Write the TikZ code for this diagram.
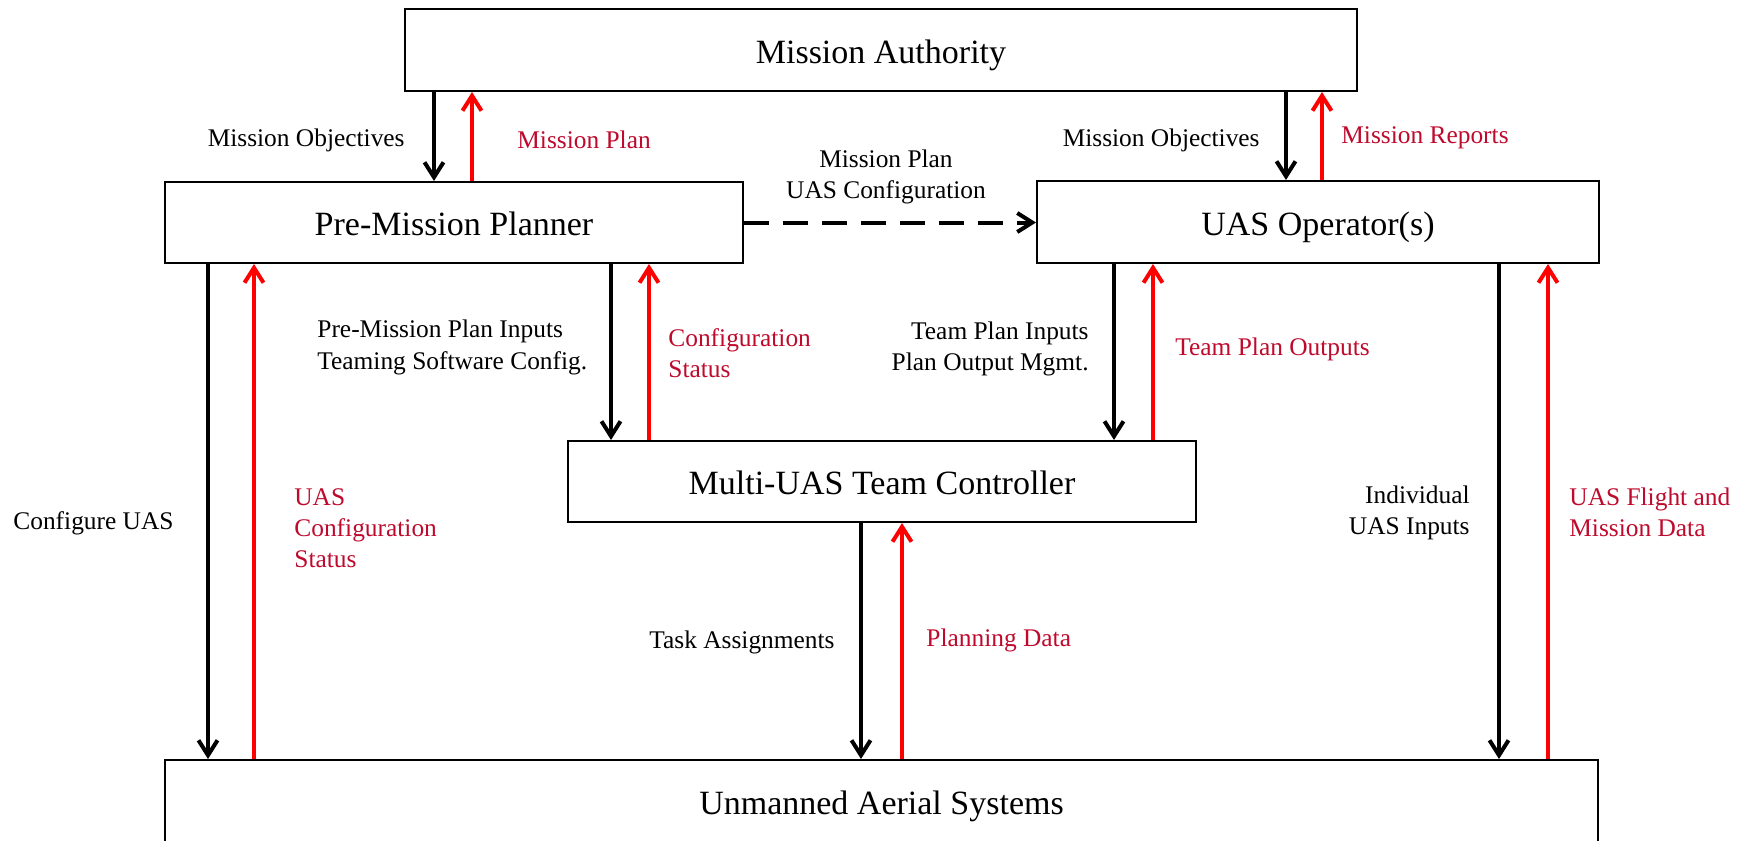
\documentclass[tikz,border=0pt]{standalone}
\usepackage{fontspec}
\setmainfont{Liberation Serif}
\usetikzlibrary{arrows.meta}
\definecolor{labred}{RGB}{190,10,45}
\definecolor{arrred}{RGB}{255,0,0}
\begin{document}
\begin{tikzpicture}[x=0.5pt,y=-0.5pt,
 box/.style={draw,line width=1pt,inner sep=0pt,text height=13.25pt,text depth=0pt,font=\fontsize{17}{20}\selectfont},
 lab/.style={inner sep=0pt,font=\fontsize{12.7}{15.6}\selectfont},
 redlab/.style={lab,text=labred},
 blk/.style={line width=2pt,-{Straight Barb[length=7.5pt,width=9.5pt]}},
 rdl/.style={line width=2pt,draw=arrred,-{Straight Barb[length=7.5pt,width=9.5pt]}},
]
\clip (0,0) rectangle (1752,841);
\fill[white] (0,0) rectangle (1752,841);

% boxes
\node[box,minimum width=476pt,minimum height=41pt] (MA) at (881,50) {Mission Authority};
\node[box,minimum width=289pt,minimum height=40.5pt] (PMP) at (454,222.5) {Pre-Mission Planner};
\node[box,minimum width=281pt,minimum height=41pt] (UOP) at (1318,222) {UAS Operator(s)};
\node[box,minimum width=314pt,minimum height=40.5pt] (MUTC) at (882,481.5) {Multi-UAS Team Controller};
\node[box,minimum width=716.5pt,minimum height=41pt] (UAS) at (881.5,801) {Unmanned Aerial Systems};

% x positions of connectors
\foreach \n/\x in {a/434,b/472,c/1286,d/1322,e/208,f/254,g/611,h/649,i/1114,j/1153,k/1499,l/1548,m/861,n/902}
  \coordinate (x\n) at (\x,0);

% connectors
\draw[blk] (MA.south -| xa) -- (PMP.north -| xa);
\draw[rdl] (PMP.north -| xb) -- (MA.south -| xb);
\draw[blk] (MA.south -| xc) -- (UOP.north -| xc);
\draw[rdl] (UOP.north -| xd) -- (MA.south -| xd);
\draw[blk,dash pattern=on 12.5pt off 7pt] (PMP.east) -- (PMP.east -| UOP.west);
\draw[blk] (PMP.south -| xe) -- (UAS.north -| xe);
\draw[rdl] (UAS.north -| xf) -- (PMP.south -| xf);
\draw[blk] (PMP.south -| xg) -- (MUTC.north -| xg);
\draw[rdl] (MUTC.north -| xh) -- (PMP.south -| xh);
\draw[blk] (UOP.south -| xi) -- (MUTC.north -| xi);
\draw[rdl] (MUTC.north -| xj) -- (UOP.south -| xj);
\draw[blk] (UOP.south -| xk) -- (UAS.north -| xk);
\draw[rdl] (UAS.north -| xl) -- (UOP.south -| xl);
\draw[blk] (MUTC.south -| xm) -- (UAS.north -| xm);
\draw[rdl] (UAS.north -| xn) -- (MUTC.south -| xn);

% labels
\node[lab,anchor=east] (l1) at (405,140) {Mission Objectives};
\node[redlab,anchor=west] (l2) at (517,140) {Mission Plan};
\node[lab,anchor=east] (l3) at (1260,140) {Mission Objectives};
\node[redlab,anchor=west] (l4) at (1341,138) {Mission Reports};
\node[lab,align=center] (l5) at (886,177) {Mission Plan\\UAS Configuration};
\node[lab,anchor=west] (l6) at (13,523) {Configure UAS};
\node[redlab,anchor=west,align=left] (l7) at (294,528) {UAS\\Configuration\\Status};
\node[lab,anchor=west,align=left] (l8) at (317,347.5) {Pre-Mission Plan Inputs\\Teaming Software Config.};
\node[redlab,anchor=west,align=left] (l9) at (668,353) {Configuration\\Status};
\node[lab,anchor=east,align=right] (l10) at (1089,349) {Team Plan Inputs\\Plan Output Mgmt.};
\node[redlab,anchor=west] (l11) at (1175,349) {Team Plan Outputs};
\node[lab,anchor=east,align=right] (l12) at (1470,512.5) {Individual\\UAS Inputs};
\node[redlab,anchor=west,align=left] (l13) at (1569,512.5) {UAS Flight and\\Mission Data};
\node[lab,anchor=east] (l14) at (835,642) {Task Assignments};
\node[redlab,anchor=west] (l15) at (926,640) {Planning Data};
\end{tikzpicture}
\end{document}
